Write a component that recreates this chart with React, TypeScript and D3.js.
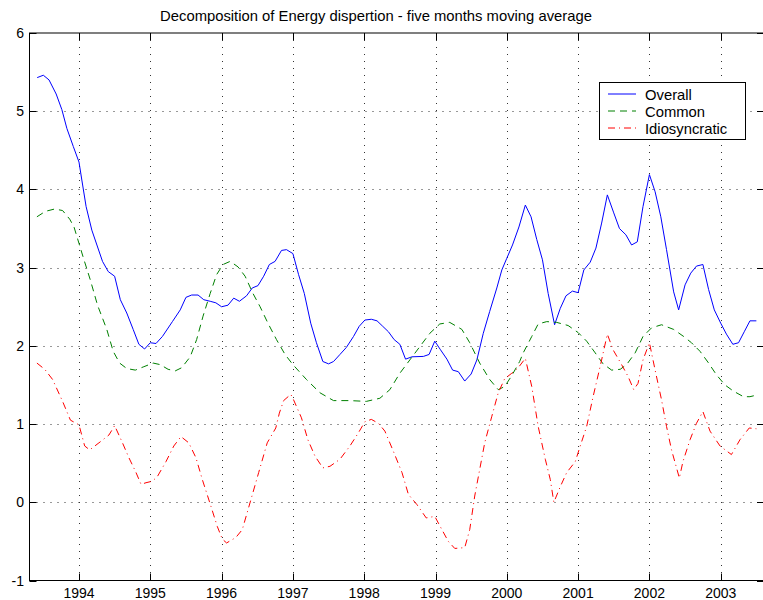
import * as d3 from "d3";
import React, { useRef, useEffect } from "react";

// chart data: [decimal year, value]
const overall: [number, number][] = [
  [1993.414, 5.43], [1993.5, 5.46], [1993.58, 5.4], [1993.68, 5.22], [1993.76, 5.02], [1993.83, 4.78],
  [1993.92, 4.55], [1994.0, 4.35], [1994.04, 4.12], [1994.1, 3.78], [1994.18, 3.48], [1994.33, 3.08],
  [1994.41, 2.95], [1994.5, 2.89], [1994.58, 2.59], [1994.67, 2.42], [1994.76, 2.21], [1994.84, 2.02],
  [1994.92, 1.96], [1995.0, 2.04], [1995.08, 2.03], [1995.17, 2.12], [1995.31, 2.31], [1995.42, 2.46],
  [1995.5, 2.62], [1995.58, 2.65], [1995.67, 2.65], [1995.75, 2.59], [1995.84, 2.57], [1995.92, 2.55],
  [1996.0, 2.5], [1996.09, 2.52], [1996.17, 2.61], [1996.25, 2.57], [1996.35, 2.64], [1996.43, 2.74],
  [1996.51, 2.77], [1996.59, 2.89], [1996.67, 3.04], [1996.75, 3.08], [1996.84, 3.22], [1996.91, 3.23],
  [1997.0, 3.18], [1997.08, 2.91], [1997.16, 2.67], [1997.25, 2.29], [1997.33, 2.04], [1997.42, 1.8],
  [1997.5, 1.77], [1997.57, 1.8], [1997.66, 1.89], [1997.75, 1.98], [1997.85, 2.12], [1997.93, 2.25],
  [1998.01, 2.33], [1998.1, 2.34], [1998.18, 2.32], [1998.26, 2.25], [1998.34, 2.18], [1998.42, 2.08],
  [1998.5, 2.02], [1998.58, 1.83], [1998.67, 1.86], [1998.83, 1.865], [1998.91, 1.89], [1998.99, 2.06],
  [1999.07, 1.95], [1999.16, 1.83], [1999.24, 1.69], [1999.32, 1.67], [1999.41, 1.55], [1999.5, 1.64],
  [1999.58, 1.82], [1999.67, 2.16], [1999.76, 2.44], [1999.86, 2.74], [1999.93, 2.97], [2000.0, 3.12],
  [2000.08, 3.29], [2000.17, 3.52], [2000.26, 3.8], [2000.34, 3.65], [2000.42, 3.36], [2000.5, 3.1],
  [2000.58, 2.67], [2000.67, 2.27], [2000.75, 2.48], [2000.83, 2.64], [2000.92, 2.7], [2001.0, 2.68],
  [2001.08, 2.97], [2001.17, 3.07], [2001.25, 3.25], [2001.33, 3.57], [2001.41, 3.93], [2001.5, 3.7],
  [2001.58, 3.5], [2001.67, 3.42], [2001.75, 3.29], [2001.83, 3.33], [2001.91, 3.78], [2002.0, 4.19],
  [2002.08, 3.97], [2002.16, 3.65], [2002.24, 3.23], [2002.34, 2.69], [2002.41, 2.46], [2002.5, 2.78],
  [2002.58, 2.93], [2002.66, 3.02], [2002.75, 3.04], [2002.83, 2.72], [2002.91, 2.46], [2003.0, 2.29],
  [2003.08, 2.15], [2003.17, 2.02], [2003.25, 2.04], [2003.33, 2.18], [2003.41, 2.32], [2003.5, 2.32],
];

const common: [number, number][] = [
  [1993.41, 3.65], [1993.53, 3.72], [1993.66, 3.75], [1993.77, 3.73], [1993.87, 3.62], [1993.93, 3.52],
  [1994.0, 3.31], [1994.07, 3.1], [1994.16, 2.84], [1994.26, 2.52], [1994.39, 2.21], [1994.48, 1.93],
  [1994.57, 1.78], [1994.67, 1.71], [1994.79, 1.69], [1994.9, 1.73], [1995.04, 1.78], [1995.14, 1.76],
  [1995.25, 1.7], [1995.35, 1.68], [1995.44, 1.72], [1995.56, 1.86], [1995.65, 2.08], [1995.74, 2.38],
  [1995.84, 2.67], [1995.93, 2.91], [1996.02, 3.04], [1996.12, 3.08], [1996.23, 3.01], [1996.33, 2.89],
  [1996.44, 2.67], [1996.54, 2.5], [1996.65, 2.29], [1996.77, 2.08], [1996.89, 1.89], [1997.0, 1.76],
  [1997.19, 1.57], [1997.38, 1.4], [1997.57, 1.3], [1997.8, 1.3], [1998.03, 1.29], [1998.22, 1.33],
  [1998.36, 1.44], [1998.5, 1.65], [1998.64, 1.82], [1998.78, 1.99], [1998.92, 2.16], [1999.06, 2.28],
  [1999.2, 2.3], [1999.37, 2.21], [1999.48, 2.04], [1999.62, 1.78], [1999.76, 1.57], [1999.88, 1.44],
  [1999.97, 1.48], [2000.07, 1.62], [2000.18, 1.8], [2000.23, 1.91], [2000.35, 2.12], [2000.44, 2.28],
  [2000.56, 2.31], [2000.7, 2.3], [2000.86, 2.26], [2001.0, 2.17], [2001.12, 2.06], [2001.24, 1.91],
  [2001.35, 1.77], [2001.47, 1.69], [2001.59, 1.7], [2001.68, 1.76], [2001.8, 1.91], [2001.91, 2.12],
  [2002.03, 2.23], [2002.17, 2.27], [2002.34, 2.21], [2002.48, 2.12], [2002.59, 2.04], [2002.71, 1.93],
  [2002.83, 1.78], [2002.94, 1.63], [2003.06, 1.5], [2003.18, 1.42], [2003.32, 1.35], [2003.41, 1.35],
  [2003.5, 1.37],
];

const idiosyncratic: [number, number][] = [
  [1993.41, 1.78], [1993.52, 1.7], [1993.63, 1.57], [1993.77, 1.29], [1993.88, 1.05], [1994.0, 0.99],
  [1994.08, 0.72], [1994.15, 0.67], [1994.28, 0.76], [1994.42, 0.86], [1994.5, 0.98], [1994.61, 0.76],
  [1994.7, 0.57], [1994.8, 0.38], [1994.87, 0.23], [1994.94, 0.25], [1995.03, 0.27], [1995.1, 0.33],
  [1995.22, 0.52], [1995.33, 0.72], [1995.43, 0.84], [1995.54, 0.76], [1995.64, 0.57], [1995.73, 0.29],
  [1995.85, -0.05], [1995.94, -0.31], [1996.01, -0.47], [1996.07, -0.52], [1996.2, -0.45], [1996.29, -0.35],
  [1996.41, 0.03], [1996.52, 0.38], [1996.64, 0.76], [1996.76, 0.95], [1996.81, 1.14], [1996.87, 1.3],
  [1996.97, 1.38], [1997.0, 1.33], [1997.12, 1.08], [1997.21, 0.8], [1997.31, 0.59], [1997.42, 0.44],
  [1997.52, 0.46], [1997.66, 0.55], [1997.8, 0.72], [1997.92, 0.89], [1998.01, 1.03], [1998.1, 1.06],
  [1998.2, 1.01], [1998.29, 0.91], [1998.41, 0.65], [1998.53, 0.38], [1998.62, 0.1], [1998.74, -0.03],
  [1998.87, -0.2], [1998.99, -0.18], [1999.09, -0.35], [1999.18, -0.5], [1999.27, -0.59], [1999.41, -0.58],
  [1999.48, -0.35], [1999.55, 0.08], [1999.62, 0.42], [1999.69, 0.76], [1999.79, 1.1], [1999.88, 1.4],
  [1999.97, 1.58], [2000.07, 1.65], [2000.16, 1.72], [2000.26, 1.84], [2000.35, 1.48], [2000.44, 0.97],
  [2000.54, 0.55], [2000.61, 0.29], [2000.66, 0.0], [2000.75, 0.2], [2000.84, 0.38], [2000.96, 0.52],
  [2001.03, 0.72], [2001.12, 0.97], [2001.21, 1.35], [2001.31, 1.74], [2001.41, 2.15], [2001.49, 1.95],
  [2001.61, 1.76], [2001.7, 1.61], [2001.78, 1.44], [2001.84, 1.52], [2001.91, 1.82], [2002.0, 2.04],
  [2002.08, 1.69], [2002.17, 1.31], [2002.24, 0.97], [2002.31, 0.67], [2002.42, 0.31], [2002.47, 0.52],
  [2002.57, 0.8], [2002.66, 1.01], [2002.75, 1.16], [2002.85, 0.91], [2002.99, 0.72], [2003.15, 0.61],
  [2003.27, 0.8], [2003.4, 0.95], [2003.5, 0.94],
];

const xTicks = [1994, 1995, 1996, 1997, 1998, 1999, 2000, 2001, 2002, 2003];
const yTicks = [-1, 0, 1, 2, 3, 4, 5, 6];
const seriesNames = ["Overall", "Common", "Idiosyncratic"];
const title = "Decomposition of Energy dispertion - five months moving average";

const W = 763,
  H = 600;
const margin = { top: 33, right: -1, bottom: 19.5, left: 29.5 };
const FONT = "'Liberation Sans', Arial, Helvetica, sans-serif";

export default function App() {
  const ref = useRef<SVGSVGElement>(null);

  useEffect(() => {
    const svg = d3.select(ref.current);
    svg.selectAll("*").remove();

    const x = d3
      .scaleLinear()
      .domain([1993.306, 2003.607])
      .range([margin.left, W - margin.right]);
    const y = d3
      .scaleLinear()
      .domain([-1, 6])
      .range([H - margin.bottom, margin.top]);

    const x0 = x.range()[0],
      x1 = x.range()[1],
      y0 = y.range()[0],
      y1 = y.range()[1];

    svg.append("rect").attr("width", W).attr("height", H).attr("fill", "#fff");

    // grid
    const grid = svg
      .append("g")
      .attr("stroke", "#333")
      .attr("stroke-width", 1)
      .attr("stroke-dasharray", "1,6");
    xTicks.forEach((t) => {
      grid
        .append("line")
        .attr("x1", Math.round(x(t)) + 0.5)
        .attr("x2", Math.round(x(t)) + 0.5)
        .attr("y1", y1)
        .attr("y2", y0);
    });
    yTicks.slice(1, -1).forEach((v) => {
      grid
        .append("line")
        .attr("x1", x0)
        .attr("x2", x1)
        .attr("y1", Math.round(y(v)) + 0.5)
        .attr("y2", Math.round(y(v)) + 0.5);
    });

    // box
    const axes = svg.append("g").attr("stroke", "#000").attr("stroke-width", 1).attr("fill", "none");
    axes.append("rect").attr("x", x0).attr("y", y1).attr("width", x1 - x0).attr("height", y0 - y1);

    // ticks (inward, on all sides)
    const tl = 7;
    xTicks.forEach((t) => {
      const px = Math.round(x(t)) + 0.5;
      axes.append("line").attr("x1", px).attr("x2", px).attr("y1", y0).attr("y2", y0 - tl);
      axes.append("line").attr("x1", px).attr("x2", px).attr("y1", y1).attr("y2", y1 + tl);
    });
    yTicks.forEach((v) => {
      const py = Math.round(y(v)) + 0.5;
      axes.append("line").attr("x1", x0).attr("x2", x0 + tl).attr("y1", py).attr("y2", py);
      axes.append("line").attr("x1", x1).attr("x2", x1 - tl).attr("y1", py).attr("y2", py);
    });

    // tick labels
    svg
      .append("g")
      .selectAll("text")
      .data(xTicks)
      .enter()
      .append("text")
      .attr("x", (d) => x(d))
      .attr("y", 598)
      .attr("text-anchor", "middle")
      .attr("font-family", FONT)
      .attr("font-size", 14)
      .text((d) => d);
    svg
      .append("g")
      .selectAll("text")
      .data(yTicks)
      .enter()
      .append("text")
      .attr("x", x0 - 5.5)
      .attr("y", (d) => y(d) + 5)
      .attr("text-anchor", "end")
      .attr("font-family", FONT)
      .attr("font-size", 14)
      .text((d) => d);

    // title
    svg
      .append("text")
      .attr("x", 376)
      .attr("y", 21)
      .attr("text-anchor", "middle")
      .attr("font-family", FONT)
      .attr("font-size", 14.8)
      .text(title);

    // series
    const line = d3
      .line<[number, number]>()
      .x((d) => x(d[0]))
      .y((d) => y(d[1]));
    const styles = [
      { color: "#0000ff", dash: null },
      { color: "#008000", dash: "7,5" },
      { color: "#ff0000", dash: "7,4,1,4" },
    ];
    [overall, common, idiosyncratic].forEach((s, i) => {
      svg
        .append("path")
        .datum(s)
        .attr("d", line)
        .attr("fill", "none")
        .attr("stroke", styles[i].color)
        .attr("stroke-width", 1)
        .attr("stroke-dasharray", styles[i].dash);
    });

    // legend
    const lg = svg.append("g");
    lg.append("rect")
      .attr("x", 599.5)
      .attr("y", 82.5)
      .attr("width", 146)
      .attr("height", 57)
      .attr("fill", "#fff")
      .attr("stroke", "#000");
    seriesNames.forEach((name, i) => {
      const ly = 94 + i * 17;
      lg.append("line")
        .attr("x1", 608)
        .attr("x2", 636)
        .attr("y1", ly)
        .attr("y2", ly)
        .attr("stroke", styles[i].color)
        .attr("stroke-dasharray", styles[i].dash);
      lg.append("text")
        .attr("x", 645)
        .attr("y", ly + 5.5)
        .attr("font-family", FONT)
        .attr("font-size", 14.8)
        .text(name);
    });
  }, []);

  return (
    <svg
      ref={ref}
      width={W}
      height={H}
      style={{ position: "absolute", left: 0, top: 0, display: "block" }}
    ></svg>
  );
}
